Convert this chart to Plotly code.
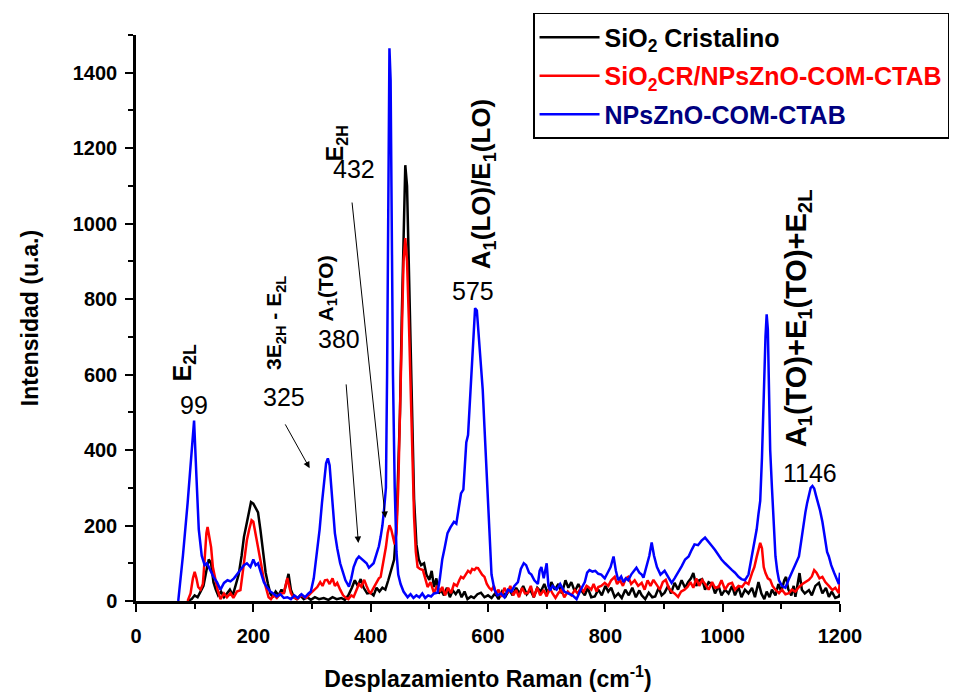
import plotly.graph_objects as go

# ---------------- data ----------------
blue_x = [72,80,88,94,99,103,107,112,117,121,126,132,138,144,150,156,161,167,172,178,184,189,195,200,204,208,212,218,223,229,234,240,246,252,258,264,270,276,282,288,294,298,303,309,313,317,321,324,327,330,333,336,339,343,348,352,357,363,367,371,376,380,385,389,393,397,401,405,410,414,417,420,423,426,428,430,432,434,436,438,441,444,447,451,456,460,463,468,473,478,483,488,493,498,503,508,514,518,522,526,531,536,542,546,550,554,558,563,566,569,572,575,578,581,584,587,591,594,597,600,603,606,611,616,622,628,634,640,645,651,656,661,665,670,674,679,685,688,691,695,700,703,706,710,717,723,730,737,744,751,758,765,769,773,778,783,788,793,799,804,809,814,818,822,827,831,835,839,844,849,853,858,862,865,870,875,879,883,888,894,901,907,913,918,924,930,936,942,947,952,958,964,970,976,982,987,993,998,1004,1010,1016,1021,1027,1032,1038,1044,1050,1054,1058,1061,1064,1067,1070,1073,1075,1077,1079,1081,1084,1087,1090,1093,1096,1101,1107,1112,1118,1124,1130,1134,1138,1141,1144,1147,1150,1153,1156,1159,1162,1166,1170,1174,1178,1181,1185,1190,1194,1198,1200]
blue_y = [0,120,260,380,478,330,190,120,95,100,82,64,50,30,48,55,52,60,70,82,95,100,90,110,95,100,80,50,37,25,20,12,18,8,10,5,15,8,18,10,20,25,60,135,190,260,320,365,378,360,300,235,180,140,100,80,55,38,60,90,110,118,112,105,100,88,95,100,125,145,170,200,245,300,600,1100,1465,1380,1000,600,300,130,70,45,25,15,10,18,8,15,10,20,8,15,12,20,22,60,110,140,180,195,210,205,250,285,295,420,440,520,600,690,776,770,700,640,560,460,360,240,135,70,30,15,20,10,30,25,40,50,85,100,95,75,70,55,45,80,90,60,100,40,28,40,30,45,25,20,15,5,30,50,75,82,78,80,72,70,60,75,90,118,80,55,65,50,60,55,70,80,88,75,70,62,90,120,155,120,90,70,80,62,48,60,75,92,110,118,135,150,148,160,168,155,145,135,120,110,100,90,82,75,64,58,55,70,118,150,190,230,265,380,550,700,760,720,560,400,300,200,118,80,55,40,35,55,75,95,118,160,210,235,260,278,300,305,298,280,265,240,210,170,130,118,95,75,60,45,75]

black_x = [88,95,100,105,110,115,120,124,128,132,136,140,145,150,155,160,165,170,175,180,184,188,192,196,200,204,208,212,215,218,221,225,229,233,238,243,248,252,256,260,264,269,274,280,286,292,298,305,312,320,328,335,342,350,356,362,368,373,378,383,388,394,400,405,410,415,420,425,430,435,440,444,447,450,453,456,459,462,465,468,471,474,478,482,486,491,495,500,504,508,512,516,520,525,530,535,540,545,550,555,560,565,571,576,582,588,594,600,606,612,618,624,630,636,642,648,654,660,666,672,678,684,690,696,702,708,714,720,726,732,737,742,748,754,759,765,770,776,782,788,794,800,805,810,816,822,828,834,840,846,852,858,862,868,874,880,885,891,896,901,907,912,918,924,930,936,941,946,950,955,960,965,970,976,982,987,993,998,1004,1010,1016,1021,1027,1032,1038,1044,1050,1055,1061,1066,1071,1075,1080,1084,1090,1095,1100,1105,1108,1112,1117,1121,1124,1128,1131,1135,1140,1147,1152,1158,1164,1170,1176,1181,1186,1192,1198,1200]
black_y = [0,5,15,10,25,40,80,110,100,50,30,15,25,10,20,30,15,40,70,120,170,200,235,262,258,245,235,190,150,110,75,45,20,10,25,15,30,20,50,72,30,10,5,15,5,10,3,10,5,8,3,10,5,8,3,15,35,55,40,58,35,20,22,15,35,25,35,30,55,85,110,200,330,500,750,1000,1155,1100,900,700,480,270,150,110,95,100,70,56,80,37,60,20,29,15,35,10,28,18,30,10,25,5,12,8,18,22,10,15,8,20,5,25,12,30,15,35,20,40,18,30,10,35,25,45,20,50,30,45,20,55,35,50,25,45,28,15,35,10,12,30,15,40,25,35,10,20,8,30,15,35,10,28,15,5,22,10,12,35,15,22,40,20,48,30,55,35,50,60,74,40,55,58,30,50,45,20,40,15,30,20,40,15,37,10,30,20,35,10,50,20,5,25,10,30,15,45,25,55,64,30,15,40,11,50,74,30,20,29,15,40,48,20,35,11,25,8,12,20]

red_x = [88,93,97,100,103,106,110,114,117,120,122,125,128,131,135,139,144,150,155,161,166,172,178,182,186,189,193,197,200,203,206,209,213,218,222,226,230,235,240,246,252,255,258,261,264,268,275,282,290,298,304,309,314,318,322,326,330,335,339,343,348,353,358,362,367,371,376,380,384,389,393,397,400,405,410,414,417,420,423,426,429,432,435,438,441,444,447,450,453,456,459,462,465,468,471,474,477,480,484,489,493,497,502,508,513,518,522,527,532,537,542,547,551,554,558,562,566,570,573,577,580,583,587,590,594,598,602,606,610,614,618,623,628,633,638,643,648,653,658,663,668,673,678,684,689,695,700,705,710,715,720,725,730,736,742,748,753,758,763,768,771,776,780,785,788,793,799,805,810,816,820,825,830,835,839,844,850,856,862,867,872,877,882,887,893,898,903,908,913,918,924,929,935,940,945,950,955,960,965,970,976,982,987,993,998,1004,1010,1016,1021,1027,1033,1039,1044,1050,1054,1058,1061,1064,1067,1070,1073,1077,1081,1085,1090,1096,1101,1107,1113,1118,1124,1130,1136,1141,1147,1152,1156,1160,1165,1170,1175,1181,1187,1192,1198,1200]
red_y = [0,20,60,77,60,37,30,45,110,180,196,170,143,90,56,30,5,20,10,21,8,25,29,80,130,161,190,214,210,185,160,143,100,56,30,10,5,15,8,20,21,45,61,40,21,10,5,15,8,21,30,37,50,40,55,56,45,60,40,48,30,15,8,5,15,11,30,45,38,56,40,25,21,35,45,60,64,90,120,143,180,201,190,165,150,180,300,500,750,900,962,900,750,580,400,223,130,90,85,82,60,37,50,21,40,25,37,15,35,21,45,40,55,64,60,72,80,75,85,82,88,87,75,70,64,45,35,29,40,18,30,11,35,20,40,15,29,10,35,20,21,40,10,35,15,29,12,35,20,8,21,30,10,25,15,29,20,35,25,40,37,30,45,25,37,40,48,40,55,64,45,55,40,60,64,45,55,40,48,30,55,40,56,45,30,50,56,35,25,20,11,25,30,37,50,35,60,40,56,45,30,50,35,37,55,30,45,48,30,40,37,50,45,74,90,117,135,154,140,90,74,60,56,40,30,21,30,18,21,30,25,37,45,50,56,65,82,75,60,64,50,40,29,35,21,56]

series_names = [
    "<b>SiO<sub>2</sub> Cristalino</b>",
    "<b><span style='color:#ff0000'>SiO<sub>2</sub>CR/NPsZnO-COM-CTAB</span></b>",
    "<b><span style='color:#000080'>NPsZnO-COM-CTAB</span></b>",
]
series_colors = ["#000000", "#ff0000", "#0000ff"]

x_ticks = [0, 200, 400, 600, 800, 1000, 1200]
y_ticks = [0, 200, 400, 600, 800, 1000, 1200, 1400]

FONT = "Liberation Sans, Arial, sans-serif"

fig = go.Figure()
for i, (xs, ys) in enumerate([(black_x, black_y), (red_x, red_y), (blue_x, blue_y)]):
    fig.add_trace(go.Scatter(
        x=xs, y=ys, mode="lines", name=series_names[i],
        line=dict(color=series_colors[i], width=2.5),
        legendgroup=f"g{i}",
    ))

# ---------------- peak annotations ----------------
rot_labels = [  # text, x, y, font size
    ("E<sub>2L</sub>", 82, 630, 25),
    ("3E<sub>2H</sub> - E<sub>2L</sub>", 237, 737, 21),
    ("A<sub>1</sub>(TO)", 326, 829, 21),
    ("E<sub>2H</sub>", 343, 1214, 23),
    ("A<sub>1</sub>(LO)/E<sub>1</sub>(LO)", 590, 1105, 26),
    ("A<sub>1</sub>(TO)+E<sub>1</sub>(TO)+E<sub>2L</sub>", 1129, 750, 29),
]
num_labels = [
    ("99", 99, 520),
    ("325", 253, 540),
    ("380", 346, 694),
    ("432", 371, 1144),
    ("575", 574, 822),
    ("1146", 1149, 340),
]
arrows = [  # (head_x, head_y, tail_x, tail_y)
    (296, 352, 253, 472),
    (379, 154, 358, 578),
    (425, 220, 368, 1060),
]

for t, x, y, s in rot_labels:
    fig.add_annotation(x=x, y=y, text=f"<b>{t}</b>", textangle=-90, showarrow=False,
                       xanchor="center", yanchor="middle",
                       font=dict(family=FONT, size=s, color="black"))
for t, x, y in num_labels:
    fig.add_annotation(x=x, y=y, text=t, showarrow=False,
                       xanchor="center", yanchor="middle",
                       font=dict(family=FONT, size=25, color="black"))
for hx, hy, tx, ty in arrows:
    fig.add_annotation(x=hx, y=hy, ax=tx, ay=ty, axref="x", ayref="y", text="",
                       showarrow=True, arrowhead=2, arrowsize=1.3, arrowwidth=1,
                       arrowcolor="black")

axis_common = dict(
    showgrid=False, zeroline=False, showline=True, linecolor="black", linewidth=2.5,
    layer="above traces", automargin=False,
    ticks="outside", ticklen=8, tickwidth=2, tickcolor="black",
    tickfont=dict(family=FONT, size=20, color="black", weight="bold"),
    minor=dict(ticks="outside", ticklen=5, tickwidth=2, tickcolor="black", dtick=100),
)

fig.update_layout(
    width=953, height=692,
    margin=dict(l=136, r=113, t=35, b=91, autoexpand=False),
    paper_bgcolor="white", plot_bgcolor="white",
    font=dict(family=FONT, color="black"),
    xaxis=dict(range=[0, 1200], tickvals=x_ticks, ticktext=[str(v) for v in x_ticks],
               ticklabelstandoff=7,
               title=dict(text="<b>Desplazamiento Raman (cm<sup>-1</sup>)</b>",
                          font=dict(family=FONT, size=23, color="black"), standoff=27),
               **axis_common),
    yaxis=dict(range=[0, 1500], tickvals=y_ticks, ticktext=[str(v) for v in y_ticks],
               ticklabelstandoff=4,
               title=dict(text="<b>Intensidad (u.a.)</b>",
                          font=dict(family=FONT, size=23, color="black"), standoff=28),
               **axis_common),
    legend=dict(x=0.564, y=1.039, xanchor="left", yanchor="top",
                bgcolor="white", bordercolor="black", borderwidth=1.5,
                font=dict(family=FONT, size=25, color="black"),
                tracegroupgap=3, itemwidth=60),
    showlegend=True,
)

fig.write_html("out.html")
